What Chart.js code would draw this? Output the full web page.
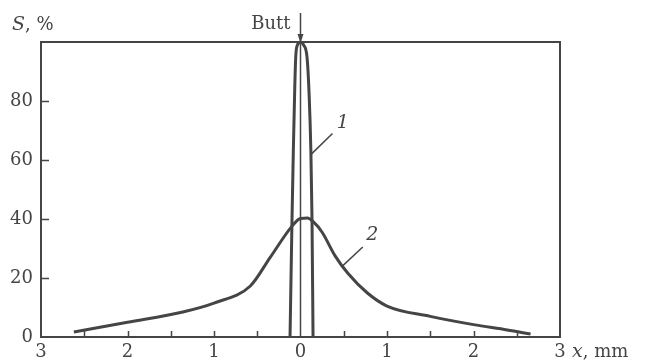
<!DOCTYPE html>
<html>
<head>
<meta charset="utf-8">
<script src="https://cdn.jsdelivr.net/npm/chart.js@4/dist/chart.umd.min.js"></script>
<style>
  html, body { margin: 0; padding: 0; background: #fff; }
  #wrap { width: 649px; height: 361px; }
</style>
</head>
<body>
<div id="wrap"><canvas id="c" width="649" height="361"></canvas></div>
<script>
// Distance from the butt, mm
const curve1X = [-0.121, -0.098, -0.083, -0.066, -0.055, -0.035, 0.0, 0.035, 0.075, 0.1, 0.12, 0.133, 0.145];
// S, % for curve 1
const curve1S = [0, 40, 63, 85, 95, 99, 100, 99, 95, 82, 63, 40, 0];

const curve2X = [-2.62, -2.0, -1.36, -1.0, -0.58, -0.35, -0.1, 0.0, 0.08, 0.15, 0.25, 0.4, 0.55, 0.77, 1.0, 1.5, 2.0, 2.39, 2.66];
const curve2S = [1.7, 5.0, 8.5, 11.5, 17.3, 27.0, 37.5, 40.2, 40.3, 39.0, 35.5, 27.5, 21.5, 15.0, 10.5, 7.0, 4.2, 2.4, 1.0];

const xTicks = [-3, -2, -1, 0, 1, 2, 3];
const xMinorTicks = [-2.5, -2, -1.5, -1, -0.5, 0.5, 1, 1.5, 2, 2.5];
const yTicks = [0, 20, 40, 60, 80];
const buttX = 0;

const INK = '#454545';
const SERIF = '"DejaVu Serif", "Liberation Serif", serif';
const FS = 18;

function pts(xs, ys) { return xs.map((x, i) => ({ x, y: ys[i] })); }

const decor = {
  id: 'decor',
  afterDatasetsDraw(chart) {
    const { ctx, chartArea: a, scales: { x, y } } = chart;
    ctx.save();
    ctx.strokeStyle = INK;
    ctx.fillStyle = INK;

    // frame
    ctx.lineWidth = 2;
    ctx.strokeRect(a.left, a.top, a.right - a.left, a.bottom - a.top);

    // inner tick marks
    ctx.lineWidth = 1.5;
    ctx.beginPath();
    yTicks.filter(v => v > 0).forEach(v => {
      const py = Math.round(y.getPixelForValue(v)) + 0.5;
      ctx.moveTo(a.left, py); ctx.lineTo(a.left + 8, py);
    });
    xMinorTicks.forEach(v => {
      const px = Math.round(x.getPixelForValue(v)) + 0.5;
      ctx.moveTo(px, a.bottom); ctx.lineTo(px, a.bottom - 6);
    });
    ctx.stroke();

    // butt line and arrow
    const bx = x.getPixelForValue(buttX);
    ctx.lineWidth = 1.5;
    ctx.beginPath();
    ctx.moveTo(bx, 13); ctx.lineTo(bx, a.bottom);
    ctx.stroke();
    ctx.beginPath();
    ctx.moveTo(bx, a.top + 1);
    ctx.lineTo(bx - 3, a.top - 8);
    ctx.lineTo(bx + 3, a.top - 8);
    ctx.closePath();
    ctx.fill();

    ctx.textBaseline = 'middle';
    ctx.font = FS + 'px ' + SERIF;
    ctx.textAlign = 'right';
    ctx.fillText('Butt', bx - 10, 24);

    // y axis title
    ctx.textAlign = 'left';
    ctx.font = 'italic ' + (FS + 1) + 'px ' + SERIF;
    ctx.fillText('S', 12, 25);
    let w = ctx.measureText('S').width;
    ctx.font = FS + 'px ' + SERIF;
    ctx.fillText(', %', 12 + w, 25);

    // x axis title
    ctx.font = 'italic ' + (FS + 1) + 'px ' + SERIF;
    ctx.fillText('x', 572, 352);
    w = ctx.measureText('x').width;
    ctx.font = FS + 'px ' + SERIF;
    ctx.fillText(', mm', 572 + w, 352);

    // curve labels with leaders
    ctx.lineWidth = 1.5;
    const lead = (lx, ly, x0, y0, x1, y1, t) => {
      ctx.beginPath();
      ctx.moveTo(x.getPixelForValue(x0), y.getPixelForValue(y0));
      ctx.lineTo(x.getPixelForValue(x1), y.getPixelForValue(y1));
      ctx.stroke();
      ctx.font = 'italic ' + (FS + 1) + 'px ' + SERIF;
      ctx.textAlign = 'center';
      ctx.fillText(t, x.getPixelForValue(lx), y.getPixelForValue(ly));
    };
    lead(0.49, 72.5, 0.37, 69, 0.125, 62, '1');
    lead(0.83, 34.6, 0.72, 30.5, 0.49, 24.2, '2');
    ctx.restore();
  }
};

new Chart(document.getElementById('c'), {
  type: 'scatter',
  data: {
    datasets: [
      { label: '1', data: pts(curve1X, curve1S), showLine: true, borderColor: INK, borderWidth: 3,
        pointRadius: 0, cubicInterpolationMode: 'monotone', fill: false },
      { label: '2', data: pts(curve2X, curve2S), showLine: true, borderColor: INK, borderWidth: 3,
        pointRadius: 0, cubicInterpolationMode: 'monotone', fill: false }
    ]
  },
  options: {
    responsive: false,
    animation: false,
    layout: { padding: { top: 42, right: 89, left: 0, bottom: 0 } },
    plugins: { legend: { display: false }, tooltip: { enabled: false } },
    scales: {
      x: {
        type: 'linear', min: -3, max: 3,
        afterFit(s) { s.height = 24; },
        afterBuildTicks(s) { s.ticks = xTicks.map(v => ({ value: v })); },
        grid: { display: false, drawTicks: false },
        border: { display: false },
        ticks: { callback: v => Math.abs(v), color: INK, padding: 5, maxRotation: 0,
                 font: { family: SERIF, size: FS } }
      },
      y: {
        min: 0, max: 100,
        afterFit(s) { s.width = 41; },
        afterBuildTicks(s) { s.ticks = yTicks.map(v => ({ value: v })); },
        grid: { display: false, drawTicks: false },
        border: { display: false },
        ticks: { color: INK, padding: 8, font: { family: SERIF, size: FS } }
      }
    }
  },
  plugins: [decor]
});
</script>
</body>
</html>
